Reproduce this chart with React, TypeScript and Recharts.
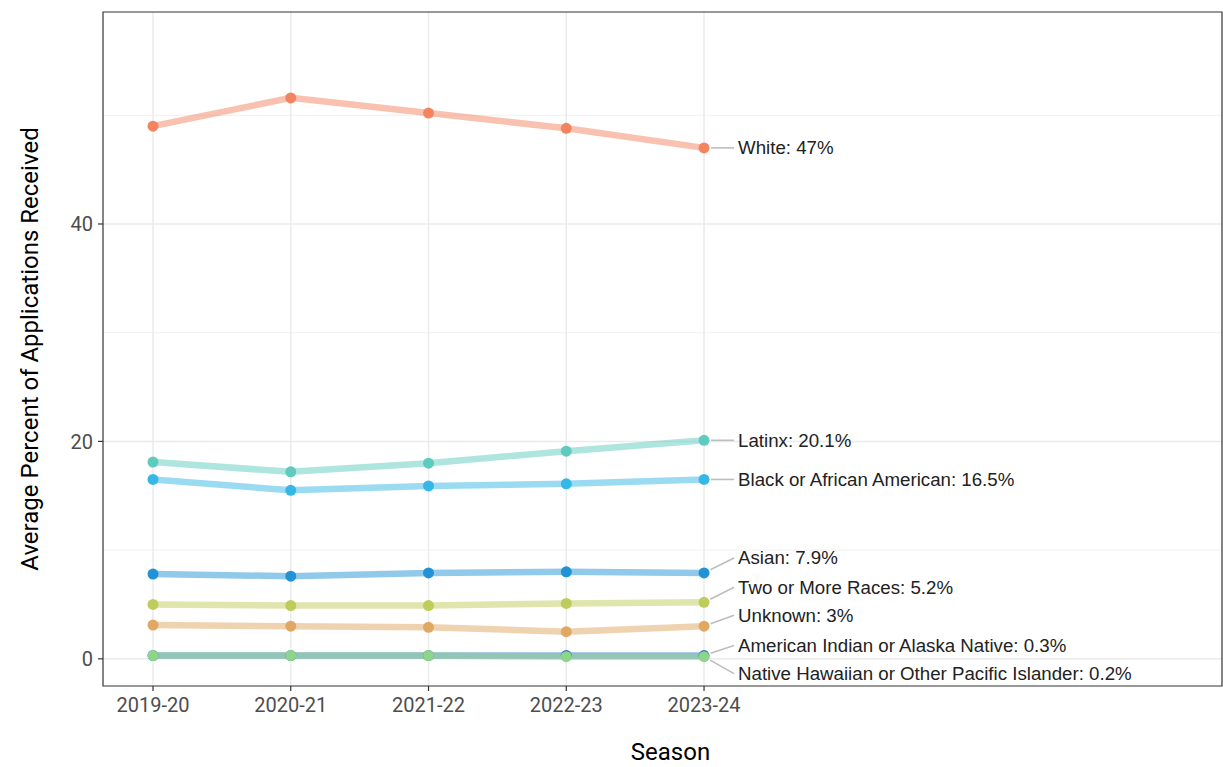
import React from "react";
import {
  LineChart, Line, XAxis, YAxis, CartesianGrid, ReferenceArea,
} from "recharts";

const seasons = ["2019-20", "2020-21", "2021-22", "2022-23", "2023-24"];

// average % of applications received, per season
const americanIndian = [0.3, 0.3, 0.3, 0.3, 0.3];
const asian = [7.8, 7.6, 7.9, 8.0, 7.9];
const black = [16.5, 15.5, 15.9, 16.1, 16.5];
const latinx = [18.1, 17.2, 18.0, 19.1, 20.1];
const nativeHawaiian = [0.3, 0.3, 0.3, 0.2, 0.2];
const twoOrMore = [5.0, 4.9, 4.9, 5.1, 5.2];
const unknown = [3.1, 3.0, 2.9, 2.5, 3.0];
const white = [49.0, 51.6, 50.2, 48.8, 47];

const yTicks = [0, 20, 40];
const yMinor = [10, 30, 50];

// label nudges (px) for the end-of-line annotations
const series = [
  { key: "ai", name: "American Indian or Alaska Native", values: americanIndian, color: "#2B6FCC", dy: -10 },
  { key: "asian", name: "Asian", values: asian, color: "#2193D4", dy: -15 },
  { key: "black", name: "Black or African American", values: black, color: "#36B8E6", dy: 0 },
  { key: "latinx", name: "Latinx", values: latinx, color: "#5ECBBE", dy: 0 },
  { key: "nh", name: "Native Hawaiian or Other Pacific Islander", values: nativeHawaiian, color: "#8ED58A", dy: 17 },
  { key: "two", name: "Two or More Races", values: twoOrMore, color: "#BECC5C", dy: -15 },
  { key: "unknown", name: "Unknown", values: unknown, color: "#E0A862", dy: -11 },
  { key: "white", name: "White", values: white, color: "#F4845F", dy: 0 },
];

const data = seasons.map((s, i) => {
  const row: Record<string, number | string> = { x: i, season: s };
  series.forEach((d) => { row[d.key] = d.values[i]; });
  return row;
});

const tickFont = { fontFamily: "Roboto, sans-serif", fontSize: 20, fill: "#4D4D4D" };
const titleStyle = { fontFamily: "Roboto, sans-serif", fontSize: 24, fill: "#000", textAnchor: "middle" as const };

function endLabel(name: string, value: number, dy: number) {
  return (props: any) => {
    if (props.index !== seasons.length - 1) return null;
    const x = Number(props.x);
    const y = Number(props.y);
    const tx = x + 34;
    const ty = y + dy;
    const ex = x + 30;
    const len = Math.hypot(ex - x, ty - y);
    const sx = x + ((ex - x) / len) * 7;
    const sy = y + ((ty - y) / len) * 7;
    return (
      <g>
        <line x1={sx} y1={sy} x2={ex} y2={ty} stroke="#BDBDBD" strokeWidth={1.6} />
        <text x={tx} y={ty} dy="0.35em" fontFamily="'Liberation Sans', Arial, sans-serif" fontSize={18.7} fill="#222">
          {`${name}: ${value}%`}
        </text>
      </g>
    );
  };
}

export default function App() {
  return (
    <div style={{ position: "absolute", left: 0, top: 0 }}>
      <LineChart width={1223} height={767} data={data} margin={{ top: 12, right: 1, left: 0, bottom: 0 }}>
        <CartesianGrid stroke="#F0F0F0" strokeWidth={1} horizontalValues={yMinor} vertical={false} />
        <CartesianGrid stroke="#EBEBEB" strokeWidth={1.5} horizontalValues={yTicks} verticalValues={[0, 1, 2, 3, 4]} />
        <XAxis
          dataKey="x"
          type="number"
          domain={[-0.363, 7.76]}
          ticks={[0, 1, 2, 3, 4]}
          tickFormatter={(v: number) => seasons[v] ?? ""}
          allowDataOverflow
          height={81}
          axisLine={false}
          tick={tickFont}
          tickSize={5}
          tickMargin={7}
          tickLine={{ stroke: "#333", strokeWidth: 1.2 }}
          label={{ value: "Season", position: "insideBottom", offset: 7, dx: 8, style: titleStyle }}
        />
        <YAxis
          type="number"
          domain={[-2.5, 59.5]}
          ticks={yTicks}
          allowDataOverflow
          width={103}
          axisLine={false}
          tick={tickFont}
          tickSize={5}
          tickMargin={5}
          tickLine={{ stroke: "#333", strokeWidth: 1.2 }}
          label={{
            value: "Average Percent of Applications Received",
            angle: -90,
            position: "center",
            dx: -22,
            style: titleStyle,
          }}
        />
        <ReferenceArea x1={-0.363} x2={7.76} y1={-2.5} y2={59.5} fill="none" stroke="#333" strokeWidth={1.2} ifOverflow="visible" />
        {series.map((s) => (
          <Line
            key={s.key}
            dataKey={s.key}
            type="linear"
            stroke={s.color}
            strokeOpacity={0.5}
            strokeWidth={6.5}
            dot={{ r: 5.5, fill: s.color, stroke: "none", strokeWidth: 0 }}
            activeDot={false}
            label={endLabel(s.name, s.values[s.values.length - 1], s.dy)}
            isAnimationActive={false}
          />
        ))}
      </LineChart>
    </div>
  );
}
